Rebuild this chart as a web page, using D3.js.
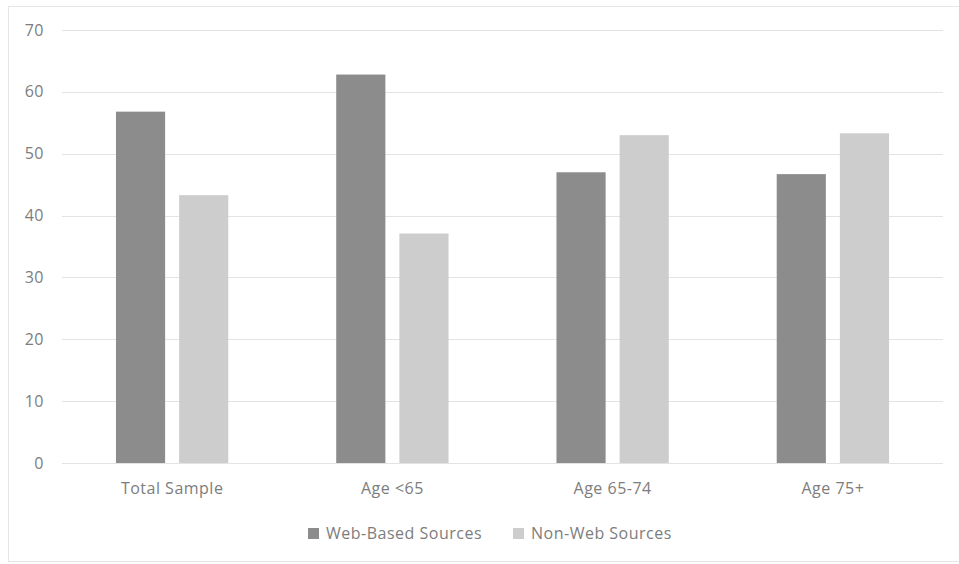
<!DOCTYPE html>
<html><head><meta charset="utf-8">
<script src="https://cdn.jsdelivr.net/npm/d3@7"></script>
<style>
html,body{margin:0;padding:0;background:#fff;}
svg{display:block;}
text{font-family:"Open Sans",sans-serif;letter-spacing:0.5px;}
</style></head>
<body>
<svg id="c" width="959" height="564"></svg>
<script>
const categories = ["Total Sample", "Age <65", "Age 65-74", "Age 75+"];
const seriesNames = ["Web-Based Sources", "Non-Web Sources"];
const webValues = [56.8, 62.8, 47.0, 46.7];
const nonWebValues = [43.3, 37.1, 53.0, 53.3];
const yTicks = [0, 10, 20, 30, 40, 50, 60, 70];
const colors = ["#8c8c8c", "#cdcdcd"];

const series = [webValues, nonWebValues];
const svg = d3.select("#c");
const W = 959, H = 564;
const plot = {left: 62, right: 943, top: 30, bottom: 463};
const textColor = "#7d7d7d";

// frame
svg.append("rect").attr("x", 8.5).attr("y", 6.5).attr("width", W - 8).attr("height", H - 9)
  .attr("fill", "#fff").attr("stroke", "#e6e6e6").attr("stroke-width", 1);

const x = d3.scaleBand().domain(categories).range([plot.left, plot.right]).paddingInner(0.49).paddingOuter(0.245);
const xi = d3.scaleBand().domain(seriesNames).range([0, x.bandwidth()]).paddingInner(0.222);
const y = d3.scaleLinear().domain([0, 70]).range([plot.bottom, plot.top]);

// gridlines
svg.append("g").selectAll("line").data(yTicks).join("line")
  .attr("x1", plot.left).attr("x2", plot.right)
  .attr("y1", d => Math.round(y(d)) + 0.5).attr("y2", d => Math.round(y(d)) + 0.5)
  .attr("stroke", "#e3e3e3").attr("stroke-width", 1);

// y axis labels
const yAxis = d3.axisLeft(y).tickValues(yTicks).tickSize(0).tickPadding(0);
const gy = svg.append("g").attr("transform", `translate(${plot.left - 18},0)`).call(yAxis);
gy.select(".domain").remove();
gy.selectAll("text").attr("font-size", 16).attr("fill", textColor).attr("font-family", "'Open Sans',sans-serif");

// bars
categories.forEach((c, i) => {
  seriesNames.forEach((s, j) => {
    svg.append("rect")
      .attr("x", x(c) + xi(s))
      .attr("y", y(series[j][i]))
      .attr("width", xi.bandwidth())
      .attr("height", y(0) - y(series[j][i]))
      .attr("fill", colors[j]);
  });
});

// x axis labels
const xAxis = d3.axisBottom(x).tickSize(0).tickPadding(0);
const gx = svg.append("g").attr("transform", `translate(0,${plot.bottom + 20})`).call(xAxis);
gx.select(".domain").remove();
gx.selectAll("text").attr("font-size", 16).attr("fill", textColor).attr("font-family", "'Open Sans',sans-serif");

// legend
const legendX = [308, 513];
const leg = svg.append("g");
seriesNames.forEach((s, j) => {
  leg.append("rect").attr("x", legendX[j]).attr("y", 528).attr("width", 11).attr("height", 11).attr("fill", colors[j]);
  leg.append("text").attr("x", legendX[j] + 18).attr("y", 539).text(s)
    .attr("font-size", 16).attr("fill", textColor);
});
</script>
</body></html>
